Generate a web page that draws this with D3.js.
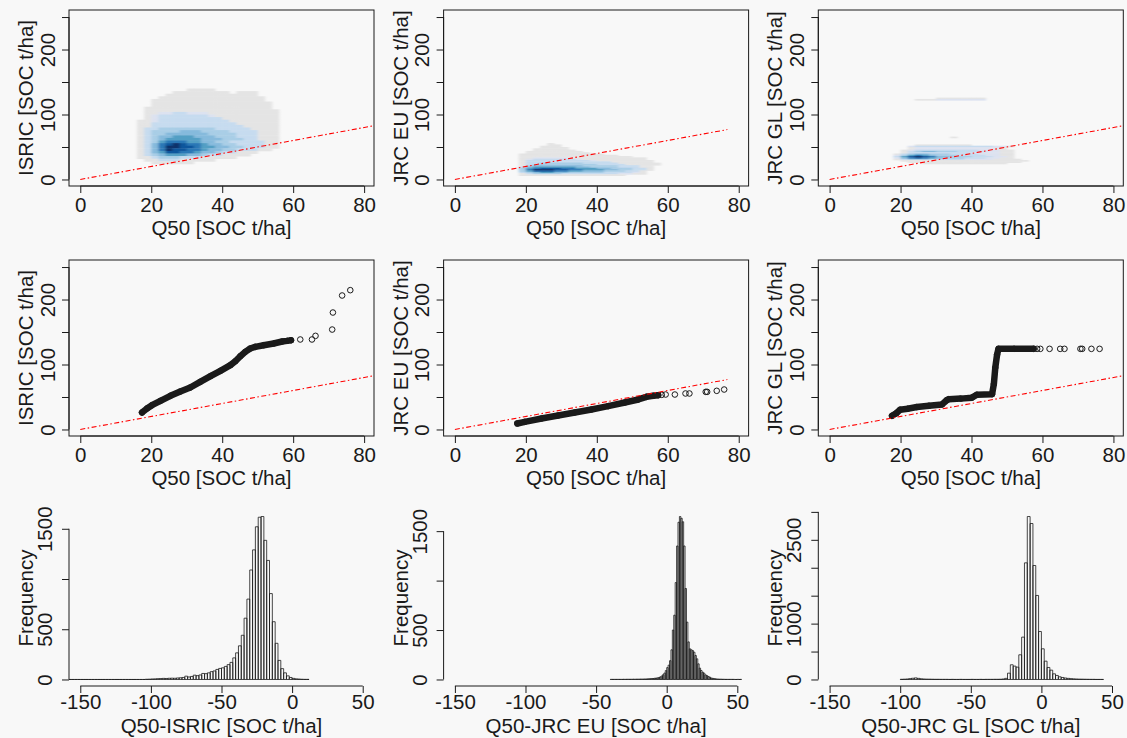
<!DOCTYPE html>
<html>
<head>
<meta charset="utf-8">
<title>Q50 vs ISRIC / JRC SOC</title>
<script src="https://cdn.jsdelivr.net/npm/d3@7"></script>
<style>
  body { margin: 0; background: #f8f8f8; }
  svg { display: block; background: #f8f8f8; }
</style>
</head>
<body>
<svg width="1127" height="738"></svg>
<script>
// ---------- values ----------

const yTitles = ["ISRIC [SOC t/ha]", "JRC EU [SOC t/ha]", "JRC GL [SOC t/ha]"];
const xTitle = "Q50 [SOC t/ha]";
const histTitles = ["Q50-ISRIC [SOC t/ha]", "Q50-JRC EU [SOC t/ha]", "Q50-JRC GL [SOC t/ha]"];
const histYTitle = "Frequency";

const socLim = [0, 79.6];          // Q50 axis
const prodLim = [0, 250.8];        // product axis
const diffLim = [-150, 50];        // histogram x range
const socTicks = [0, 20, 40, 60, 80];
const prodTicks = [0, 50, 100, 150, 200, 250];
const prodTickLabels = [0, 100, 200];
const diffTicks = [-150, -100, -50, 0, 50];

// 1:1 line goes from 0 to this value in each column
const oneToOneEnd = [90, 76.8, 90];

// smoothScatter density, level 0 (empty) .. 9 (darkest), one string per row of cells
const isricDensX = [14, 16, 18, 20, 22, 24, 26, 28, 30, 32, 34, 36, 38, 40, 42, 44, 46, 48, 50, 52, 54, 56];
const isricDensY = [136, 132, 128, 124, 120, 116, 112, 108, 104, 100, 96, 92, 88, 84, 80, 76, 72, 68, 64, 60, 56, 52, 48, 44, 40, 36, 32, 28, 24];
const isricDensStep = [2, 4];
const isricDens = [
  "0000000011110000000000",
  "0000001111111101110000",
  "0000011111111111110000",
  "0000111111111111111000",
  "0001111111111111111000",
  "0001111111111111111100",
  "0001111111111111111100",
  "0011111111111111111100",
  "0011111111111111111110",
  "0011223322211111111110",
  "0012333333321111111110",
  "0012333333333111111110",
  "0112333333333311111110",
  "0113333333333331111110",
  "0113333333333333111110",
  "0133444444443333311110",
  "0134444555444433331110",
  "0134455555544443331110",
  "0134556665554443331110",
  "0134566666555444331110",
  "0134677766554433333110",
  "0135789877655443333110",
  "0135799887665544333110",
  "0135798877655443331100",
  "0135688776554331110000",
  "0134566655433111100000",
  "0113444333111110000000",
  "0011333111110000000000",
  "0001111110000000000000"
];

const jrcEuDensX = [16, 18, 20, 22, 24, 26, 28, 30, 32, 34, 36, 38, 40, 42, 44, 46, 48, 50, 52, 54, 56];
const jrcEuDensY = [54, 52, 50, 48, 46, 44, 42, 40, 38, 36, 34, 32, 30, 28, 26, 24, 22, 20, 18, 16, 14, 12, 10, 8, 6];
const jrcEuDensStep = [2, 2];
const jrcEuDens = [
  "000001000000000000000",
  "000001100000000000000",
  "000011100000000000000",
  "000011110000000000000",
  "000111110000000000000",
  "000111111000000000000",
  "001111111100000000000",
  "001111111110000000000",
  "011111111111100000000",
  "011111111111111000000",
  "011111111111111110000",
  "011222221111111111100",
  "012333333211111111100",
  "013333333332111111110",
  "013333333333331111110",
  "013344444433333111111",
  "013444444444333311111",
  "014555555544444333110",
  "035666666554444333110",
  "046788877666554443310",
  "047999887766655443310",
  "046888776655544433100",
  "034566554444433332100",
  "013444433333333221100",
  "011111111111111100000"
];

const jrcGlDensX = [16, 18, 20, 22, 24, 26, 28, 30, 32, 34, 36, 38, 40, 42, 44, 46, 48, 50, 52, 54];
const jrcGlDensY = [124, 122, 64, 52, 50, 48, 46, 44, 42, 40, 38, 36, 34, 32, 30, 28, 26, 24];
const jrcGlDensStep = [2, 2];
const jrcGlDens = [
  "00000001111111000000",
  "00001112222222000000",
  "00000000010000000000",
  "00001111111100000000",
  "00023333333333322100",
  "00012222222222221000",
  "00012222222222211000",
  "00123333333332221100",
  "00134554443333221100",
  "00133333333322221100",
  "01345544433332221100",
  "02467654443333221100",
  "03689875544433322100",
  "02578765444333221100",
  "01344433333222211110",
  "00111111111111111111",
  "00011111111111111110",
  "00000111111111111000"
];

// QQ plots: dense run of quantiles, then the sparse upper tail
const isricQQx = [17.4, 18.8, 20.2, 22.6, 25.4, 28.2, 31.0, 33.8, 36.7, 39.5, 42.3, 43.7, 45.1, 46.5, 47.9, 49.3, 51.7, 54.5, 56.9, 58.3, 59.4];
const isricQQy = [26.2, 32.3, 37.4, 44.1, 51.8, 58.5, 64.6, 73.3, 82.1, 90.3, 99.0, 105.1, 112.8, 119.5, 124.6, 127.2, 129.7, 132.3, 135.4, 136.4, 137.4];
const isricTailX = [62.0, 65.3, 66.3, 71.0, 71.2, 73.8, 76.1];
const isricTailY = [138.5, 138.5, 144.1, 153.8, 180.0, 206.2, 214.4];

const jrcEuQQx = [17.6, 19.7, 24.4, 29.1, 33.8, 38.5, 43.2, 47.9, 51.7, 54.0, 55.9, 57.3];
const jrcEuQQy = [9.2, 11.8, 16.9, 21.5, 26.2, 30.8, 35.9, 41.5, 46.2, 50.3, 51.8, 52.8];
const jrcEuTailX = [58.3, 59.4, 62.0, 65.0, 66.1, 70.7, 71.1, 73.8, 75.9];
const jrcEuTailY = [53.3, 53.8, 53.8, 55.4, 55.4, 57.9, 57.9, 59.5, 61.5];

const jrcGlQQx = [17.6, 18.8, 19.9, 22.0, 24.6, 28.0, 31.7, 33.0, 33.6, 37.0, 40.1, 41.5, 45.8, 46.3, 46.7, 47.2, 47.6, 52.0, 57.5];
const jrcGlQQy = [21.0, 25.0, 30.5, 32.0, 34.5, 36.5, 38.5, 45.0, 46.7, 47.5, 49.0, 53.5, 54.4, 70.0, 95.0, 115.0, 124.1, 124.1, 124.1];
const jrcGlTailX = [58.5, 59.4, 62.0, 65.0, 66.2, 70.7, 71.2, 73.8, 76.1];
const jrcGlTailY = [124.1, 124.1, 124.1, 124.1, 124.1, 124.1, 124.1, 124.1, 124.1];

// histograms of Q50 - product: first break, bin width, counts
const isricHistStart = -160, isricHistWidth = 2;
const isricHist = [
  0, 0, 0, 0, 0, 0, 0, 0, 0, 0, 0, 0, 0, 0, 0, 0, 0, 0, 0, 0, 0, 0, 0, 0, 0, 0, 0, 0,
  2, 3, 5, 6, 8, 9, 11, 10, 12, 13, 12, 15, 17, 20, 33, 25, 30, 43, 38, 45,
  60, 58, 66, 78, 85, 100, 110, 116, 130, 148, 170, 215, 265, 335, 440, 610, 800, 1090, 1290, 1520,
  1615, 1622, 1385, 1185, 855, 575, 360, 190, 108, 66, 36, 20, 11, 6, 4, 2, 1, 1
];
const jrcEuHistStart = -40, jrcEuHistWidth = 1;
const jrcEuHist = [
  1, 1, 1, 1, 1, 1, 1, 1, 1, 2, 1, 2, 2, 2, 2, 2, 3, 2, 3, 3, 3, 4, 4, 4, 5, 5, 6, 7,
  8, 9, 10, 12, 14, 16, 20, 26, 35, 48, 65, 90,
  120, 145, 190, 300, 500, 650, 980, 1350, 1590, 1648, 1630, 1595, 1350, 920, 580, 380,
  310, 300, 292, 276, 243, 209, 158, 115, 91, 74, 64, 47, 40, 30, 24, 15,
  12, 9, 7, 5, 4, 3, 3, 2, 2, 1, 1, 1, 1, 1, 1, 1, 0, 0, 1, 0, 1
];
const jrcGlHistStart = -100, jrcGlHistWidth = 2;
const jrcGlHist = [
  3, 5, 8, 15, 22, 28, 20, 12, 8, 6, 5, 4, 3, 3, 2,
  2, 2, 1, 2, 1, 1, 2, 1, 1, 1, 2, 1, 1, 2, 1, 2, 2, 2, 3, 3, 4,
  8, 20, 113, 263, 239, 221, 442, 758, 2088, 2917, 2792, 2040, 1504, 859,
  549, 328, 215, 167, 101, 72, 48, 36, 26, 20, 15, 11, 8, 6, 5, 4, 3, 2, 2, 1, 1, 1
];
const histTicks = [[0, 500, 1000, 1500], [0, 500, 1000, 1500], [0, 500, 1000, 1500, 2000, 2500, 3000]];
const histTickLabels = [[0, 500, 1500], [0, 500, 1500], [0, 1000, 2500]];

// ---------- layout ----------

const fontFamily = '"Liberation Sans", Arial, Helvetica, sans-serif';
const fontSize = 20.5;
const ink = "#1a1a1a";
const tickLen = 7;
const colX = [0, 374.6, 749.3];
const rowY = [0, 250, 500];
const plotL = 69, plotR = 374, plotT = 10, plotB = 186;

const densColor = d3.scaleOrdinal()
  .domain([1, 2, 3, 4, 5, 6, 7, 8, 9])
  .range(["#e4e4e4", "#dce2f0", "#c6dbef", "#a8cde6", "#86badc", "#539fc4", "#2c78b6", "#11579d", "#08306b"]);

const svg = d3.select("svg");

const defs = svg.append("defs");
defs.append("clipPath").attr("id", "plotArea").append("rect")
  .attr("x", plotL).attr("y", plotT).attr("width", plotR - plotL).attr("height", plotB - plotT);
defs.append("filter").attr("id", "soften")
  .attr("x", "-10%").attr("y", "-10%").attr("width", "120%").attr("height", "120%")
  .append("feGaussianBlur").attr("stdDeviation", "1.5 0.7");

// R style axis range: data limits padded by 4% each side
function rPad(lim) {
  const r = lim[1] - lim[0];
  return [lim[0] - 0.04 * r, lim[1] + 0.04 * r];
}

function panel(c, r) {
  return svg.append("g").attr("transform", `translate(${colX[c]},${rowY[r]})`);
}

function styleAxis(ax) {
  ax.attr("font-family", fontFamily).attr("font-size", fontSize).attr("color", ink);
  ax.selectAll(".tick text").attr("fill", ink);
}

function bottomAxis(g, x, ticks, labelY) {
  const ax = g.append("g").attr("transform", `translate(0,${plotB})`)
    .call(d3.axisBottom(x).tickValues(ticks).tickSize(tickLen).tickFormat(d => d));
  ax.select(".domain").remove();
  ax.append("line")
    .attr("x1", x(ticks[0])).attr("x2", x(ticks[ticks.length - 1]))
    .attr("stroke", "currentColor");
  ax.selectAll(".tick text").attr("y", labelY).attr("dy", null);
  styleAxis(ax);
}

function leftAxis(g, y, ticks, labels, labelX) {
  const ax = g.append("g").attr("transform", `translate(${plotL},0)`)
    .call(d3.axisLeft(y).tickValues(ticks).tickSize(tickLen)
      .tickFormat(d => labels.includes(d) ? d : ""));
  ax.select(".domain").remove();
  ax.append("line")
    .attr("y1", y(ticks[0])).attr("y2", y(ticks[ticks.length - 1]))
    .attr("stroke", "currentColor");
  ax.selectAll(".tick text")
    .attr("x", 0).attr("dy", null).attr("text-anchor", "middle")
    .attr("transform", `translate(${-labelX},0) rotate(-90)`);
  styleAxis(ax);
}

function titles(g, xt, yt, xBase) {
  g.append("text")
    .attr("x", (plotL + plotR) / 2).attr("y", xBase)
    .attr("text-anchor", "middle")
    .attr("font-family", fontFamily).attr("font-size", fontSize).attr("fill", ink)
    .text(xt);
  g.append("text")
    .attr("transform", `translate(33,${(plotT + plotB) / 2}) rotate(-90)`)
    .attr("text-anchor", "middle")
    .attr("font-family", fontFamily).attr("font-size", fontSize).attr("fill", ink)
    .text(yt);
}

function frame(g) {
  g.append("rect")
    .attr("x", plotL).attr("y", plotT).attr("width", plotR - plotL).attr("height", plotB - plotT)
    .attr("fill", "none").attr("stroke", ink);
}

function oneToOne(g, x, y, end) {
  g.append("line")
    .attr("x1", x(0)).attr("y1", y(0)).attr("x2", x(end)).attr("y2", y(end))
    .attr("stroke", "#ff0000").attr("stroke-width", 1.1)
    .attr("stroke-dasharray", "5,2.5,1.5,2.5");
}

function drawDensity(g, x, y, xs, ys, rows, step) {
  const cells = [];
  rows.forEach((row, j) => {
    row.split("").forEach((ch, i) => {
      if (+ch > 0) cells.push({ x0: xs[i], y0: ys[j], lev: +ch });
    });
  });
  g.append("g").attr("filter", "url(#soften)")
    .selectAll("rect").data(cells).join("rect")
    .attr("x", d => x(d.x0))
    .attr("width", d => x(d.x0 + step[0]) - x(d.x0) + 0.4)
    .attr("y", d => y(d.y0 + step[1]))
    .attr("height", d => y(d.y0) - y(d.y0 + step[1]) + 0.4)
    .attr("fill", d => densColor(d.lev));
}

function drawQQ(g, x, y, qx, qy, tx, ty) {
  const pts = qx.map((v, i) => [v, qy[i]]);
  g.append("path")
    .datum(pts)
    .attr("d", d3.line().x(d => x(d[0])).y(d => y(d[1])))
    .attr("fill", "none").attr("stroke", ink).attr("stroke-width", 6.5)
    .attr("stroke-linejoin", "round").attr("stroke-linecap", "round");
  const tail = tx.map((v, i) => [v, ty[i]]);
  g.selectAll("circle.pt").data(pts.concat(tail)).join("circle")
    .attr("class", "pt")
    .attr("cx", d => x(d[0])).attr("cy", d => y(d[1])).attr("r", 2.8)
    .attr("fill", "none").attr("stroke", ink).attr("stroke-width", 1);
}

function drawHist(g, x, y, start, width, counts) {
  g.selectAll("path.bar").data(counts).join("path")
    .attr("class", "bar")
    .attr("d", (c, i) => {
      const x0 = x(start + i * width), x1 = x(start + (i + 1) * width);
      return `M${x0},${y(0)}V${y(c)}H${x1}V${y(0)}Z`;
    })
    .attr("fill", "none").attr("stroke", ink).attr("stroke-width", 0.8);
}

// ---------- build the 3 x 3 grid ----------

const xSoc = d3.scaleLinear().domain(rPad(socLim)).range([plotL, plotR]);
const yProd = d3.scaleLinear().domain(rPad(prodLim)).range([plotB, plotT]);
const xDiff = d3.scaleLinear().domain(rPad(diffLim)).range([plotL, plotR]);

const dens = [
  [isricDensX, isricDensY, isricDens, isricDensStep],
  [jrcEuDensX, jrcEuDensY, jrcEuDens, jrcEuDensStep],
  [jrcGlDensX, jrcGlDensY, jrcGlDens, jrcGlDensStep]
];
const qq = [
  [isricQQx, isricQQy, isricTailX, isricTailY],
  [jrcEuQQx, jrcEuQQy, jrcEuTailX, jrcEuTailY],
  [jrcGlQQx, jrcGlQQy, jrcGlTailX, jrcGlTailY]
];
const hists = [
  [isricHistStart, isricHistWidth, isricHist],
  [jrcEuHistStart, jrcEuHistWidth, jrcEuHist],
  [jrcGlHistStart, jrcGlHistWidth, jrcGlHist]
];

for (let c = 0; c < 3; c++) {
  // row 1: smoothScatter
  let g = panel(c, 0);
  let inner = g.append("g").attr("clip-path", "url(#plotArea)");
  drawDensity(inner, xSoc, yProd, ...dens[c]);
  oneToOne(inner, xSoc, yProd, oneToOneEnd[c]);
  frame(g);
  bottomAxis(g, xSoc, socTicks, 26);
  leftAxis(g, yProd, prodTicks, prodTickLabels, 14.5);
  titles(g, xTitle, yTitles[c], 235);

  // row 2: qqplot
  g = panel(c, 1);
  inner = g.append("g").attr("clip-path", "url(#plotArea)");
  drawQQ(inner, xSoc, yProd, ...qq[c]);
  oneToOne(inner, xSoc, yProd, oneToOneEnd[c]);
  frame(g);
  bottomAxis(g, xSoc, socTicks, 26);
  leftAxis(g, yProd, prodTicks, prodTickLabels, 14.5);
  titles(g, xTitle, yTitles[c], 235);

  // row 3: histogram of differences
  g = panel(c, 2);
  const [start, width, counts] = hists[c];
  const yFreq = d3.scaleLinear().domain(rPad([0, d3.max(counts)])).range([plotB, plotT]);
  inner = g.append("g").attr("clip-path", "url(#plotArea)");
  drawHist(inner, xDiff, yFreq, start, width, counts);
  bottomAxis(g, xDiff, diffTicks, 22.5);
  leftAxis(g, yFreq, histTicks[c], histTickLabels[c], 17);
  titles(g, histTitles[c], histYTitle, 232.5);
}
</script>
</body>
</html>
